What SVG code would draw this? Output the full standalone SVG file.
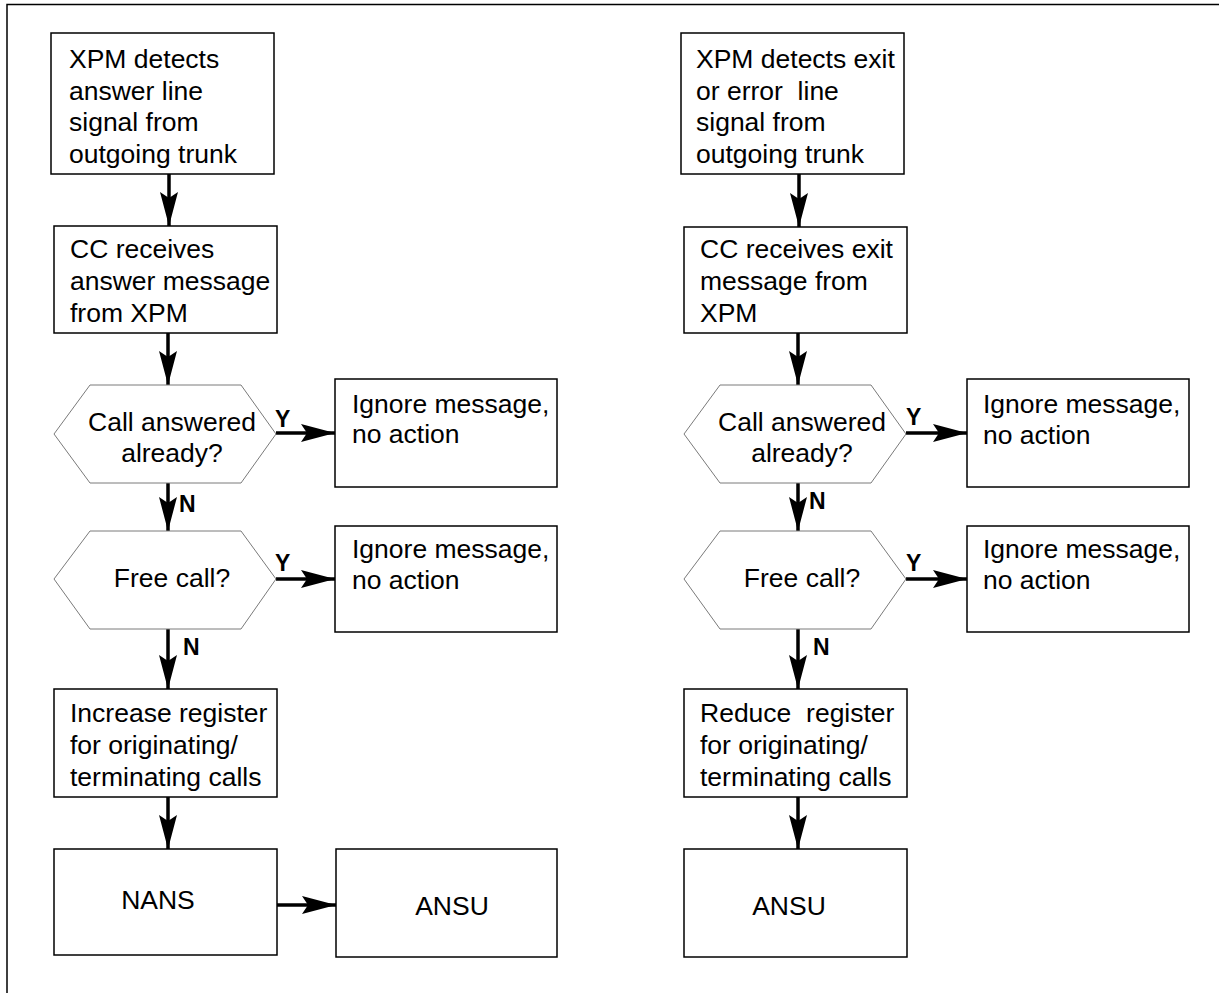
<svg xmlns="http://www.w3.org/2000/svg" width="1219" height="993" viewBox="0 0 1219 993">
<style>
.box{fill:#fff;stroke:#000;stroke-width:1.5}
.hex{fill:#fff;stroke:#7a7a7a;stroke-width:1}
.t{font-family:"Liberation Sans",Arial,sans-serif;font-size:26.5px;fill:#000}
.c{text-anchor:middle}
.lbl{font-family:"Liberation Sans",Arial,sans-serif;font-size:23px;font-weight:bold;fill:#000}
.ln{stroke:#000;stroke-width:3.5;fill:none;marker-end:url(#ah)}
.frame{stroke:#000;stroke-width:1.5;fill:none}
</style>
<defs>
<marker id="ah" markerUnits="userSpaceOnUse" markerWidth="38" markerHeight="24" viewBox="-36 -12 38 24" refX="0" refY="0" orient="auto">
<path d="M0,0 L-34,-9 L-28,0 L-34,9 Z" fill="#000"/>
</marker>
</defs>
<path class="frame" d="M7,993 V4.5 H1219"/>
<g id="connectors">
<line class="ln" x1="169" y1="174" x2="169" y2="226"/>
<line class="ln" x1="168" y1="333" x2="168" y2="385"/>
<line class="ln" x1="168" y1="483" x2="168" y2="531"/>
<line class="ln" x1="276" y1="433" x2="335" y2="433"/>
<line class="ln" x1="276" y1="579" x2="335" y2="579"/>
<line class="ln" x1="168" y1="629" x2="168" y2="689"/>
<line class="ln" x1="168" y1="797" x2="168" y2="849"/>
<line class="ln" x1="277" y1="905" x2="336" y2="905"/>
<line class="ln" x1="799" y1="174" x2="799" y2="227"/>
<line class="ln" x1="798" y1="333" x2="798" y2="385"/>
<line class="ln" x1="798" y1="483" x2="798" y2="531"/>
<line class="ln" x1="906" y1="433" x2="967" y2="433"/>
<line class="ln" x1="906" y1="579" x2="967" y2="579"/>
<line class="ln" x1="798" y1="629" x2="798" y2="689"/>
<line class="ln" x1="798" y1="797" x2="798" y2="849"/>
<text class="lbl" x="275" y="427">Y</text>
<text class="lbl" x="275" y="571">Y</text>
<text class="lbl" x="179" y="512">N</text>
<text class="lbl" x="183" y="655">N</text>
<text class="lbl" x="906" y="425">Y</text>
<text class="lbl" x="906" y="571">Y</text>
<text class="lbl" x="809" y="509">N</text>
<text class="lbl" x="813" y="655">N</text>
</g>
<g id="l-detect">
<rect class="box" x="51" y="33" width="223" height="141"/>
<text class="t" x="69" y="68">XPM detects</text>
<text class="t" x="69" y="100">answer line</text>
<text class="t" x="69" y="131">signal from</text>
<text class="t" x="69" y="163">outgoing trunk</text>
</g>
<g id="l-receive">
<rect class="box" x="54" y="226" width="223" height="107"/>
<text class="t" x="70" y="258">CC receives</text>
<text class="t" x="70" y="290">answer message</text>
<text class="t" x="70" y="322">from XPM</text>
</g>
<g id="l-answered">
<polygon class="hex" points="54,434 90,385 241,385 276,434 241,483 90,483"/>
<text class="t c" x="172" y="431">Call answered</text>
<text class="t c" x="172" y="462">already?</text>
</g>
<g id="l-ignore1">
<rect class="box" x="335" y="379" width="222" height="108"/>
<text class="t" x="352" y="413">Ignore message,</text>
<text class="t" x="352" y="443">no action</text>
</g>
<g id="l-free">
<polygon class="hex" points="54,579 90,531 241,531 276,579 241,629 90,629"/>
<text class="t c" x="172" y="587">Free call?</text>
</g>
<g id="l-ignore2">
<rect class="box" x="335" y="526" width="222" height="106"/>
<text class="t" x="352" y="558">Ignore message,</text>
<text class="t" x="352" y="589">no action</text>
</g>
<g id="l-increase">
<rect class="box" x="54" y="689" width="223" height="108"/>
<text class="t" x="70" y="722">Increase register</text>
<text class="t" x="70" y="754">for originating/</text>
<text class="t" x="70" y="786">terminating calls</text>
</g>
<g id="l-nans">
<rect class="box" x="54" y="849" width="223" height="106"/>
<text class="t c" x="158" y="909">NANS</text>
</g>
<g id="l-ansu">
<rect class="box" x="336" y="849" width="221" height="108"/>
<text class="t c" x="452" y="915">ANSU</text>
</g>
<g id="r-detect">
<rect class="box" x="681" y="33" width="223" height="141"/>
<text class="t" x="696" y="68">XPM detects exit</text>
<text class="t" x="696" y="100" xml:space="preserve">or error  line</text>
<text class="t" x="696" y="131">signal from</text>
<text class="t" x="696" y="163">outgoing trunk</text>
</g>
<g id="r-receive">
<rect class="box" x="684" y="227" width="223" height="106"/>
<text class="t" x="700" y="258">CC receives exit</text>
<text class="t" x="700" y="290">message from</text>
<text class="t" x="700" y="322">XPM</text>
</g>
<g id="r-answered">
<polygon class="hex" points="684,434 720,385 871,385 906,434 871,483 720,483"/>
<text class="t c" x="802" y="431">Call answered</text>
<text class="t c" x="802" y="462">already?</text>
</g>
<g id="r-ignore1">
<rect class="box" x="967" y="379" width="222" height="108"/>
<text class="t" x="983" y="413">Ignore message,</text>
<text class="t" x="983" y="444">no action</text>
</g>
<g id="r-free">
<polygon class="hex" points="684,579 720,531 871,531 906,579 871,629 720,629"/>
<text class="t c" x="802" y="587">Free call?</text>
</g>
<g id="r-ignore2">
<rect class="box" x="967" y="526" width="222" height="106"/>
<text class="t" x="983" y="558">Ignore message,</text>
<text class="t" x="983" y="589">no action</text>
</g>
<g id="r-reduce">
<rect class="box" x="684" y="689" width="223" height="108"/>
<text class="t" x="700" y="722" xml:space="preserve">Reduce  register</text>
<text class="t" x="700" y="754">for originating/</text>
<text class="t" x="700" y="786">terminating calls</text>
</g>
<g id="r-ansu">
<rect class="box" x="684" y="849" width="223" height="108"/>
<text class="t c" x="789" y="915">ANSU</text>
</g>
</svg>
